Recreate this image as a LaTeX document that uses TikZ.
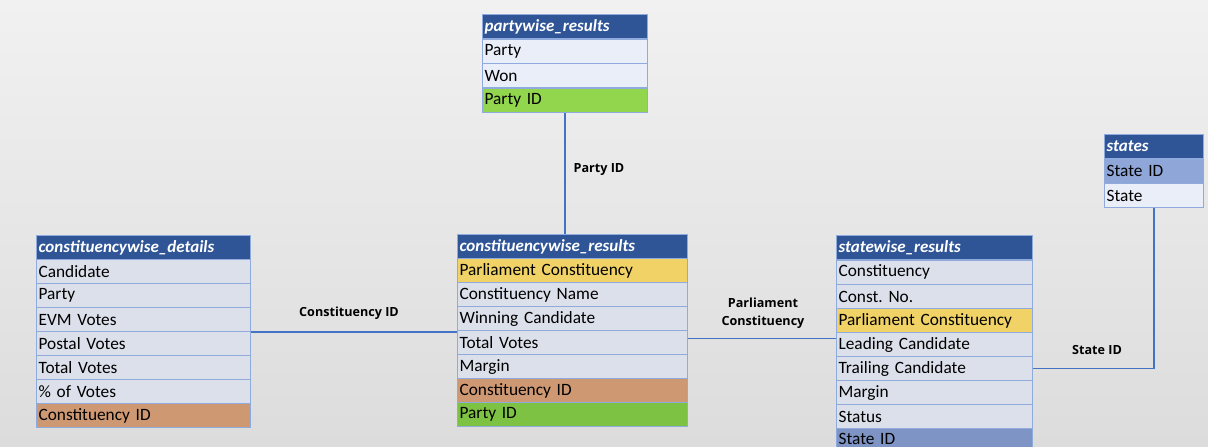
\documentclass[tikz,border=0pt]{standalone}
\usepackage{fontspec}
\setmainfont{Carlito}
\newfontfamily\lblfont{Open Sans}
\frenchspacing
\definecolor{hdr}{HTML}{2F5597}
\definecolor{bord}{HTML}{8FAADC}
\definecolor{rowA}{HTML}{E9EEF8}
\definecolor{rowB}{HTML}{DCE0EA}
\definecolor{yel}{HTML}{F0D266}
\definecolor{org}{HTML}{CE9872}
\definecolor{grnA}{HTML}{92D64E}
\definecolor{grnB}{HTML}{7DC242}
\definecolor{stA}{HTML}{8EA6D8}
\definecolor{stB}{HTML}{7D94C4}
\definecolor{conn}{HTML}{4472C4}
\definecolor{bgtop}{HTML}{F1F1F1}
\definecolor{bgbot}{HTML}{DCDCDC}
\begin{document}
\begin{tikzpicture}[x=1pt,y=-1pt,
  cell/.style={draw=bord, line width=1.2pt, anchor=north west, inner xsep=2pt, inner ysep=0pt,
    align=left, minimum height=24pt, font=\fontsize{17.3}{18}\selectfont, text=black},
  hcell/.style={cell, fill=hdr, draw=bord, text=white, font=\fontsize{17}{18}\selectfont\bfseries\itshape},
  lbl/.style={font=\lblfont\fontsize{12.6}{18}\selectfont\bfseries, align=center, text=black},
  link/.style={draw=conn, line width=1.6pt}]
\useasboundingbox (0,0) rectangle (1208,447);
\shade[top color=bgtop, bottom color=bgbot] (0,0) rectangle (1208,447);

% partywise_results
\begin{scope}[every node/.append style={text width=161pt}]
\node[hcell] (p0) at (482,14) {partywise\_results};
\node[cell, fill=rowA] (p1) at (482,38.5) {Party};
\node[cell, fill=rowA] (p2) at (482,63) {Won};
\node[cell, fill=grnA] (p3) at (482,87.5) {Party ID};
\end{scope}

% constituencywise_details
\begin{scope}[every node/.append style={text width=210pt}]
\node[hcell] (d0) at (36,235) {constituencywise\_details};
\node[cell, fill=rowB] (d1) at (36,259) {Candidate};
\node[cell, fill=rowB] (d2) at (36,283) {Party};
\node[cell, fill=rowB] (d3) at (36,307) {EVM Votes};
\node[cell, fill=rowB] (d4) at (36,331) {Postal Votes};
\node[cell, fill=rowB] (d5) at (36,355) {Total Votes};
\node[cell, fill=rowB] (d6) at (36,379) {\% of Votes};
\node[cell, fill=org] (d7) at (36,403) {Constituency ID};
\end{scope}

% constituencywise_results
\begin{scope}[every node/.append style={text width=226pt}]
\node[hcell] (c0) at (457,234) {constituencywise\_results};
\node[cell, fill=yel] (c1) at (457,258) {Parliament Constituency};
\node[cell, fill=rowB] (c2) at (457,282) {Constituency Name};
\node[cell, fill=rowB] (c3) at (457,306) {Winning Candidate};
\node[cell, fill=rowB] (c4) at (457,330) {Total Votes};
\node[cell, fill=rowB] (c5) at (457,354) {Margin};
\node[cell, fill=org] (c6) at (457,378) {Constituency ID};
\node[cell, fill=grnB] (c7) at (457,402) {Party ID};
\end{scope}

% statewise_results
\begin{scope}[every node/.append style={text width=192pt}]
\node[hcell] (s0) at (836,235) {statewise\_results};
\node[cell, fill=rowB] (s1) at (836,259.5) {Constituency};
\node[cell, fill=rowB] (s2) at (836,284) {Const. No.};
\node[cell, fill=yel] (s3) at (836,308) {Parliament Constituency};
\node[cell, fill=rowB] (s4) at (836,332) {Leading Candidate};
\node[cell, fill=rowB] (s5) at (836,356) {Trailing Candidate};
\node[cell, fill=rowB] (s6) at (836,380) {Margin};
\node[cell, fill=rowB] (s7) at (836,404) {Status};
\node[cell, fill=stB, minimum height=20pt] (s8) at (836,428) {State ID};
\end{scope}

% states
\begin{scope}[every node/.append style={text width=95pt}]
\node[hcell] (t0) at (1104,134) {states};
\node[cell, fill=stA] (t1) at (1104,158.5) {State ID};
\node[cell, fill=rowA] (t2) at (1104,183) {State};
\end{scope}

% connectors
\draw[link] (p3.south) -- (p3.south |- c0.north);
\draw[link] (d3.south east) -- (d3.south east -| c4.west);
\draw[link] ([yshift=4pt]c4.east) -- ([yshift=4pt]c4.east -| s4.west);
\draw[link] (s5.east) -| (t2.south);

% labels
\node[lbl] (lp) at (599,170) {Party ID};
\node[lbl] (lc) at (349,313) {Constituency ID};
\node[lbl] (lpc) at (763,313) {Parliament\\Constituency};
\node[lbl] (ls) at (1097,350) {State ID};
\end{tikzpicture}
\end{document}
